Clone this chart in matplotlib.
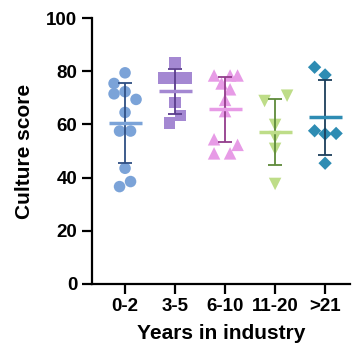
import matplotlib
matplotlib.use('Agg')
import matplotlib.pyplot as plt
import numpy as np

# Values
categories = ['0-2', '3-5', '6-10', '11-20', '>21']
scores_0_2 = [79.4, 75.4, 71.5, 72.3, 69.4, 64.5, 57.5, 57.5, 43.5, 38.5, 36.6]
scores_3_5 = [83.3, 77.4, 77.4, 77.4, 68.3, 63.4, 60.6]
scores_6_10 = [78.4, 78.4, 78.4, 75.4, 73.2, 69.2, 65.0, 54.4, 52.3, 49.1, 49.1]
scores_11_20 = [68.8, 70.8, 59.8, 55.2, 50.8, 37.6]
scores_21 = [81.5, 78.6, 57.6, 56.4, 56.6, 45.4]

# horizontal scatter of the points within each column
jitter_0_2 = [0, -0.22, -0.22, 0, 0.22, 0, -0.11, 0.11, 0, 0.11, -0.11]
jitter_3_5 = [0, -0.22, 0, 0.22, 0, 0.11, -0.11]
jitter_6_10 = [-0.22, 0.1, 0.25, -0.07, 0.1, 0, 0, -0.22, 0.25, -0.22, 0.1]
jitter_11_20 = [-0.21, 0.24, 0, 0, 0, 0]
jitter_21 = [-0.21, 0, -0.21, 0, 0.22, 0]

groups = [scores_0_2, scores_3_5, scores_6_10, scores_11_20, scores_21]
jitters = [jitter_0_2, jitter_3_5, jitter_6_10, jitter_11_20, jitter_21]
markers = ['o', 's', '^', 'v', 'D']
marker_sizes = [8.3, 8.3, 9, 9, 6.8]
fill_colors = ['#7BA3D8', '#A488D2', '#E79BE6', '#BEDD88', '#2E8CB3']
bar_colors = ['#2F4F84', '#5A3C8C', '#933D8C', '#5E8A3A', '#1C3F5C']

plt.rcParams['font.family'] = ['Liberation Sans', 'DejaVu Sans']
plt.rcParams['font.weight'] = 'bold'

fig = plt.figure(figsize=(3.54, 3.54), dpi=100)
ax = fig.add_axes([0.26, 0.198, 0.729, 0.751])

for i, (vals, jit) in enumerate(zip(groups, jitters)):
    vals = np.array(vals)
    xs = i + np.array(jit)
    ax.scatter(xs, vals, marker=markers[i], s=marker_sizes[i] ** 2,
               color=fill_colors[i], edgecolors='none', zorder=2, clip_on=False)
    mean = vals.mean()
    sd = vals.std(ddof=1)
    ax.errorbar(i, mean, yerr=sd, fmt='none', ecolor=bar_colors[i],
                elinewidth=1.3, capsize=5, capthick=1.3, zorder=3)
    ax.hlines(mean, i - 0.33, i + 0.33, color=fill_colors[i], linewidth=2.5, zorder=4)

ax.set_xlim(-0.66, 4.5)
ax.set_ylim(0, 100)
ax.set_yticks([0, 20, 40, 60, 80, 100])
ax.set_xticks(range(len(categories)))
ax.set_xticklabels(categories)

for side in ['top', 'right']:
    ax.spines[side].set_visible(False)
for side in ['left', 'bottom']:
    ax.spines[side].set_linewidth(1.6)
ax.tick_params(axis='both', width=1.6, length=7, labelsize=13.5, color='black')
for lbl in ax.get_xticklabels() + ax.get_yticklabels():
    lbl.set_fontweight('bold')

ax.set_xlabel('Years in industry', fontsize=15, fontweight='bold', labelpad=6)
ax.set_ylabel('Culture score', fontsize=15, fontweight='bold', labelpad=9)

fig.savefig('out.png', dpi=100)
